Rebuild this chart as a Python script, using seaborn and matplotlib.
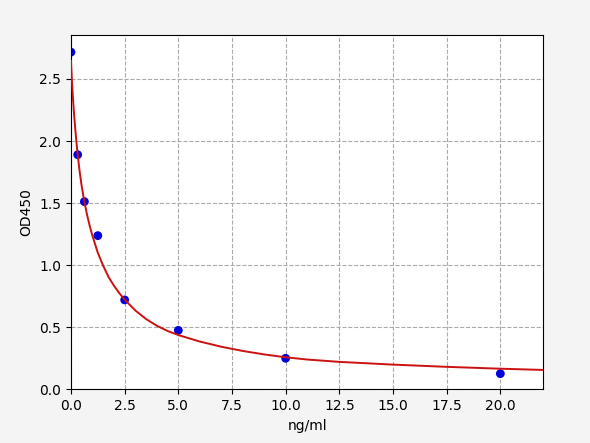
import numpy as np
import pandas as pd
import matplotlib
matplotlib.use('Agg')
import matplotlib.pyplot as plt
import seaborn as sns

# standard points
conc = [0, 0.3125, 0.625, 1.25, 2.5, 5, 10, 20]
od = [2.716, 1.890, 1.512, 1.238, 0.720, 0.475, 0.250, 0.126]

# fitted curve
curve_x = [0, 0.05, 0.1, 0.15, 0.2, 0.25, 0.3125, 0.4, 0.5, 0.625, 0.75, 0.875,
           1.0, 1.25, 1.5, 1.75, 2.0, 2.25, 2.5, 3.0, 3.5, 4.0, 4.5, 5.0,
           6.0, 7.0, 8.0, 9.0, 10, 11, 12.5, 15, 17.5, 20, 22]
curve_y = [2.645, 2.465, 2.325, 2.205, 2.098, 2.0, 1.891, 1.760, 1.635, 1.510, 1.405, 1.315,
           1.236, 1.100, 0.995, 0.905, 0.835, 0.775, 0.722, 0.635, 0.566, 0.512, 0.470, 0.437,
           0.385, 0.343, 0.309, 0.281, 0.258, 0.240, 0.221, 0.199, 0.181, 0.166, 0.156]

pts = pd.DataFrame({'conc': conc, 'od': od})
fit = pd.DataFrame({'x': curve_x, 'y': curve_y})

fig = plt.figure(figsize=(5.9, 4.43), dpi=100, facecolor='#f4f4f4')
ax = fig.add_axes([0.1203, 0.1212, 0.8005, 0.7991])

sns.scatterplot(data=pts, x='conc', y='od', color='#0000dd', s=40,
                edgecolor='none', zorder=2, ax=ax)
sns.lineplot(data=fit, x='x', y='y', color='#cc1111', linewidth=1.4,
             zorder=3, ax=ax)

ax.set_xlim(0, 22)
ax.set_ylim(0, max(od) * 1.05)
ax.set_xticks(np.arange(0, 20.1, 2.5))
ax.set_yticks(np.arange(0, 2.6, 0.5))
ax.grid(True, linestyle='--', color='#aaaaaa', linewidth=0.8)
ax.set_axisbelow(True)
ax.set_xlabel('ng/ml')
ax.set_ylabel('OD450')

fig.savefig('out.png', dpi=100, facecolor=fig.get_facecolor())
